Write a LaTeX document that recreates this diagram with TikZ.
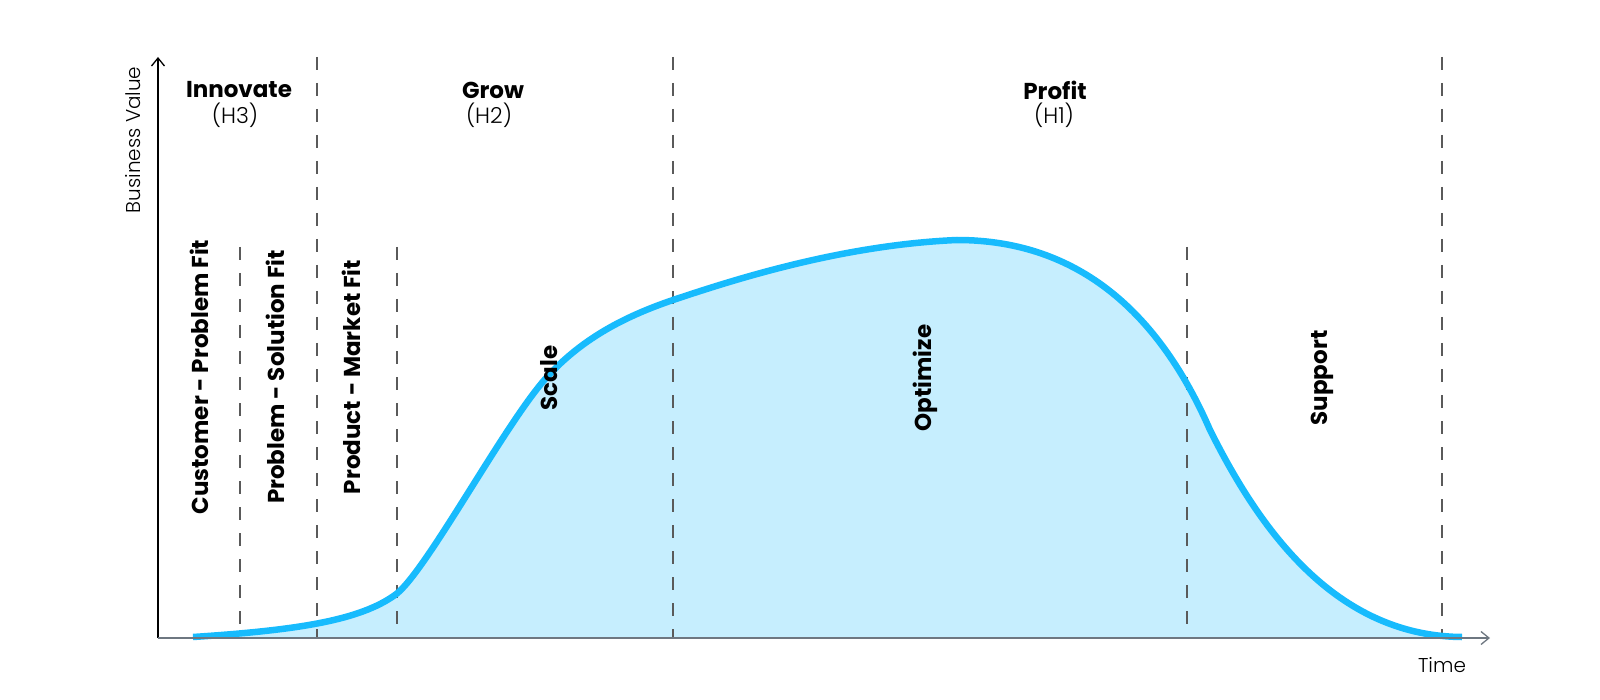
\documentclass[tikz,border=0pt]{standalone}
\usepackage{fontspec}
\setmainfont{Poppins}
\newfontfamily\lightfont{Poppins Light}
\usepackage{tikz}
\usetikzlibrary{arrows.meta}
\definecolor{curveblue}{HTML}{17BBFD}
\definecolor{areablue}{HTML}{C6EEFE}
\definecolor{axisgray}{HTML}{6E7781}
\definecolor{dashgray}{HTML}{5A5A5A}
\tikzset{
  phase/.style={font=\bfseries\fontsize{23}{26}\selectfont},
  horizon/.style={font=\lightfont\fontsize{22}{26}\selectfont},
  stage/.style={font=\bfseries\fontsize{23}{26}\selectfont, rotate=90},
  axislabel/.style={font=\lightfont\fontsize{20}{24}\selectfont},
  divider/.style={dashgray, line width=1.2pt, dash pattern=on 13pt off 13pt},
  axisline/.style={line width=1.3pt, -{Straight Barb[length=8pt,width=13pt]}},
}

\begin{document}
\begin{tikzpicture}[x=1pt,y=-1pt]
\useasboundingbox (0,0) rectangle (1600,700);
% value curve
\def\valuecurve{(193,637) .. controls (300,630) and (360,620) .. (395,595)
  .. controls (425,574) and (505,423) .. (547,377)
  .. controls (580,341) and (620,318) .. (673,300)
  .. controls (730,281) and (840,245) .. (957,240)
  .. controls (1080,240) and (1160,315) .. (1210,430)
  .. controls (1255,520) and (1330,636) .. (1462,637)}
\fill[areablue] \valuecurve -- cycle;
%
\foreach \x/\top in {240/247, 317/57, 397/247, 673/57, 1187/247, 1442/57} {
  \coordinate (d\x a) at (\x,\top);
  \coordinate (d\x b) at (\x,638);
  \draw[divider] (d\x a) -- (d\x b);
}
%
\draw[curveblue, line width=6.5pt] \valuecurve;
%
\coordinate (origin) at (158,638);
\coordinate (ytop) at (158,57);
\coordinate (xend) at (1490,638);
\draw[axisline, black] (origin) -- (ytop);
\draw[axisline, axisgray] (origin) -- (xend);
\node[axislabel, rotate=90] (value) at (133,140) {Business Value};
\node[axislabel] (time) at (1442,665) {Time};
%
\node[phase] (innovate) at (239,90) {Innovate};
\node[horizon] (h3) at (235,115) {(H3)};
\node[phase] (grow) at (493,90) {Grow};
\node[horizon] (h2) at (489,115) {(H2)};
\node[phase] (profit) at (1055,90) {Profit};
\node[horizon] (h1) at (1054,115) {(H1)};
%
\node[stage] (cpfit) at (199,377) {Customer - Problem Fit};
\node[stage] (psfit) at (275,377) {Problem - Solution Fit};
\node[stage] (pmfit) at (351,377) {Product - Market Fit};
\node[stage] (scale) at (549,378) {Scale};
\node[stage] (optimize) at (925,378) {Optimize};
\node[stage] (support) at (1322,378) {Support};
\end{tikzpicture}
\end{document}
